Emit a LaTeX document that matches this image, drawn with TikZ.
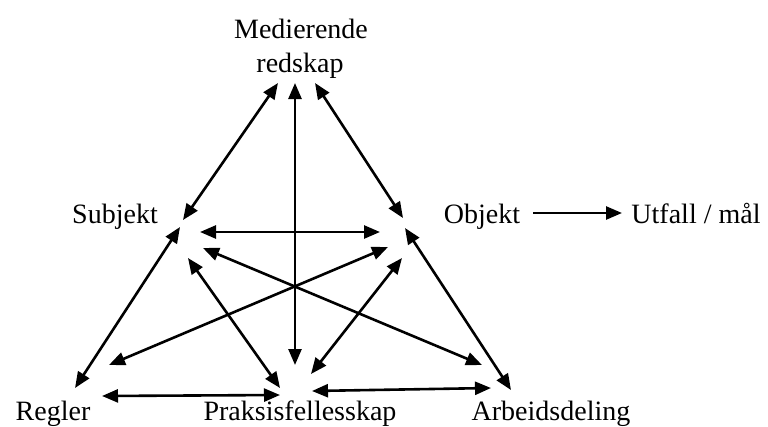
\documentclass[tikz,border=0pt]{standalone}
\usepackage{fontspec}
\setmainfont{Liberation Serif}
\usetikzlibrary{arrows.meta}
\tikzset{
  lbl/.style={anchor=base, inner sep=0pt, font=\fontsize{28}{34}\selectfont},
  tip/.tip={Triangle[length=16pt,width=13pt]},
  link/.style={line width=2.6pt, tip-tip},
  onelink/.style={line width=2.6pt, -tip}
}
\begin{document}
\begin{tikzpicture}[x=1pt,y=-1pt]
\path[use as bounding box, clip] (0,0) rectangle (768,426);
\fill[white] (0,0) rectangle (768,426);

% labels of the six corners and the outcome
\node[lbl] (med1) at (301,38) {Medierende};
\node[lbl] (med2) at (300,72) {redskap};
\node[lbl] (subj) at (115,223) {Subjekt};
\node[lbl] (obj)  at (482,223) {Objekt};
\node[lbl] (utf)  at (696,223) {Utfall / mål};
\node[lbl] (reg)  at (53,420) {Regler};
\node[lbl] (prak) at (300,420) {Praksisfellesskap};
\node[lbl] (arb)  at (551,420) {Arbeidsdeling};

% arrow end points around the corners
\coordinate (mS) at (278,83);
\coordinate (mP) at (295,83);
\coordinate (mO) at (315,83);

\coordinate (sM) at (183,220);
\coordinate (sR) at (180,227);
\coordinate (sO) at (200,232);
\coordinate (sA) at (203,248);
\coordinate (sP) at (188,258);

\coordinate (oM) at (403,218);
\coordinate (oA) at (405,228);
\coordinate (oS) at (380,232);
\coordinate (oR) at (388,247);
\coordinate (oP) at (402,258);
\coordinate (oU) at (533,213);
\coordinate (uO) at (622,213);

\coordinate (rS) at (75,388);
\coordinate (rO) at (109,365);
\coordinate (rP) at (102,396);

\coordinate (pM) at (295,365);
\coordinate (pS) at (280,388);
\coordinate (pO) at (311,374);
\coordinate (pR) at (280,395);
\coordinate (pA) at (312,391);

\coordinate (aO) at (511,390);
\coordinate (aS) at (482,365);
\coordinate (aP) at (491,388);

% connections of the activity triangle
\draw[link] (sM) -- (mS);
\draw[link] (mP) -- (pM);
\draw[link] (mO) -- (oM);
\draw[link] (sO) -- (oS);
\draw[link] (sR) -- (rS);
\draw[link] (oA) -- (aO);
\draw[link] (sP) -- (pS);
\draw[link] (sA) -- (aS);
\draw[link] (rO) -- (oR);
\draw[link] (oP) -- (pO);
\draw[link] (rP) -- (pR);
\draw[link] (pA) -- (aP);

% object leads to the outcome
\draw[onelink] (oU) -- (uO);
\end{tikzpicture}
\end{document}
